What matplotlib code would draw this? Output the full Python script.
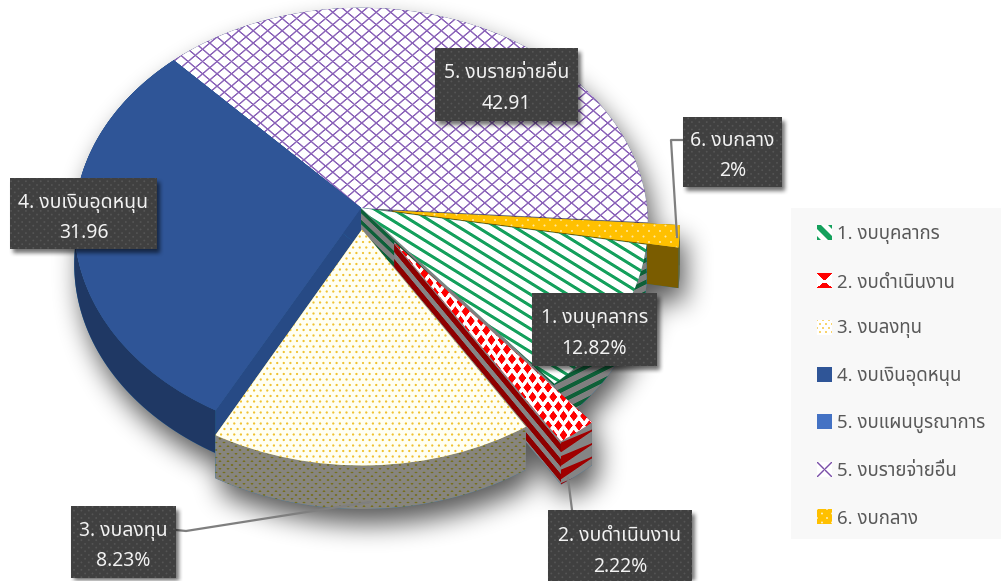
import numpy as np
import matplotlib
matplotlib.use('Agg')
import matplotlib.pyplot as plt
from matplotlib.patches import Polygon, Rectangle
from matplotlib.path import Path
from matplotlib.transforms import Transform

plt.rcParams['font.family'] = ['Noto Sans Thai', 'DejaVu Sans']

# data
categories = ['1. งบบุคลากร', '2. งบดำเนินงาน', '3. งบลงทุน', '4. งบเงินอุดหนุน',
              '5. งบแผนบูรณาการ', '5. งบรายจ่ายอื่น', '6. งบกลาง']
# share of the circle each slice takes in the picture (its labels say otherwise)
slice_share = [11.3, 2.06, 16.83, 30.0, 0, 38.17, 1.64]
slice_pull = [0, 0.195, 0.1, 0, 0, 0, 0.11]
label_names = ['1. งบบุคลากร', '2. งบดำเนินงาน', '3. งบลงทุน', '4. งบเงินอุดหนุน', '5. งบรายจ่ายอื่น', '6. งบกลาง']
label_values = ['12.82%', '2.22%', '8.23%', '31.96', '42.91', '2%']

# layout, in pixels of the picture
W, H = 1001, 581
CX, CY, RX, RY, PERSP, DEPTH = 361, 208, 286, 215, 0.074, 40
START = -9.7
label_boxes = [(532, 293, 125, 73), (548, 510, 144, 75), (71, 506, 105, 72),
               (10, 178, 147, 71), (435, 48, 143, 73), (683, 117, 99, 70)]
leaders = [None, [(568, 478), (572, 510)], [(176, 530), (186, 531), (370, 502)],
           None, None, [(677, 237), (671, 140), (683, 140)]]
legend_y = [233, 281, 328, 375, 422, 470, 517]


def project(u, v):
    s = 1 / (1 + PERSP * v)
    return CX + RX * u * s, CY - RY * v * s


class PieProjection(Transform):
    # tilts the flat pie into picture pixels, far side smaller
    input_dims = 2
    output_dims = 2

    def transform_non_affine(self, values):
        values = np.asarray(values)
        x, y = project(values[:, 0], values[:, 1])
        return np.column_stack([x, y])


yy, xx = np.mgrid[0:H, 0:W] + 0.5


def hexrgb(c):
    return np.array(matplotlib.colors.to_rgb(c))


def paint(bg, fg, mask):
    return hexrgb(bg) * (1 - mask[..., None]) + hexrgb(fg) * mask[..., None]


def stripes(x, y, slope, period, width):
    d = ((y - slope * x) / period + 0.5) % 1 - 0.5
    return np.clip(width / 2 - np.abs(d) * period + 0.5, 0, 1)


def dots(x, y, px, py, r):
    a = (x / px) % 1 - 0.5
    b = (y / py) % 1 - 0.5
    a2 = (x / px + 0.5) % 1 - 0.5
    b2 = (y / py + 0.5) % 1 - 0.5
    d1 = np.hypot(a * px, b * py)
    d2 = np.hypot(a2 * px, b2 * py)
    return np.clip(r - np.minimum(d1, d2) + 0.5, 0, 1)


def diamonds(x, y, px, py, ax_, ay_):
    a = (x / px) % 1 - 0.5
    b = (y / py) % 1 - 0.5
    a2 = (x / px + 0.5) % 1 - 0.5
    b2 = (y / py + 0.5) % 1 - 0.5
    d = np.minimum(np.abs(a) / ax_ + np.abs(b) / ay_, np.abs(a2) / ax_ + np.abs(b2) / ay_)
    return np.clip((1 - d) * 6, 0, 1)


def lattice(x, y, slope, period, width):
    return np.maximum(stripes(x, y, slope, period, width), stripes(x, y, -slope, period, width))


def blur(a, r, passes=3):
    k = np.ones(2 * r + 1) / (2 * r + 1)
    for _ in range(passes):
        a = np.apply_along_axis(lambda m: np.convolve(m, k, mode='same'), 0, a)
        a = np.apply_along_axis(lambda m: np.convolve(m, k, mode='same'), 1, a)
    return a


top_tex = {
    0: paint('#FFFFFF', '#14A05C', stripes(xx, yy, 0.62, 11.5, 3.6)),
    1: paint('#FFFFFF', '#FF0000', diamonds(xx + 3, yy + 2, 10.3, 19, 0.42, 0.3)),
    2: paint('#FFFFF2', '#F0C232', dots(xx, yy, 6.6, 11, 1.1)),
    3: paint('#2F5597', '#2F5597', np.zeros_like(xx)),
    4: paint('#4472C4', '#4472C4', np.zeros_like(xx)),
    5: paint('#FFFFFF', '#8A62B8', lattice(xx, yy, 0.85, 12.3, 1.9)),
    6: paint('#FFC000', '#FFE9A0', dots(xx, yy, 11, 11, 1.0)),
}
# rim of each slice
rim_tex = {
    0: paint('#7F7F7F', '#0D6038', stripes(xx, yy, -0.5, 11, 4.5)),
    1: paint('#858585', '#A00000', stripes(xx, yy, -0.55, 13.5, 2 + 9 * np.clip((590 - xx) / 34, 0, 1))),
    2: paint('#87857E', '#76701E', dots(xx, yy * 1.6, 8, 12, 1.3)),
    3: paint('#1F3864', '#1F3864', np.zeros_like(xx)),
    4: paint('#2F5597', '#2F5597', np.zeros_like(xx)),
    5: paint('#6F6F6F', '#4A3668', lattice(xx, yy, 0.85, 12.3, 1.9)),
    6: paint('#7A5C00', '#7A5C00', np.zeros_like(xx)),
}
# flat cut faces of each slice
side_tex = dict(rim_tex)
side_tex[0] = paint('#7F7F7F', '#0D6038', stripes(xx, yy, 0.95, 11, 4.5))
side_tex[1] = paint('#858585', '#8E0000', stripes(xx, yy, 1.2, 15, 8))
side_tex[3] = paint('#274A85', '#274A85', np.zeros_like(xx))
box_tex = paint('#404040', '#555555', dots(xx, yy, 7.4, 7.4, 0.9))

fig = plt.figure(figsize=(W / 100, H / 100), dpi=100)
ax = fig.add_axes([0, 0, 1, 1])
wedges, _ = ax.pie(slice_share, explode=slice_pull, startangle=START, counterclock=False, normalize=True)
ax.set_aspect('auto')
ax.set_xlim(0, W)
ax.set_ylim(H, 0)
ax.axis('off')
to_px = PieProjection() + ax.transData
for w, c in zip(wedges, ['#14A05C', '#FF0000', '#F0C232', '#2F5597', '#4472C4', '#8F69BC', '#FFC000']):
    w.set_transform(to_px)
    w.set_facecolor(c)
    w.set_edgecolor('none')


def textured(patch, tex, z):
    patch.set_zorder(z)
    patch.set_edgecolor('none')
    if patch.axes is None:
        ax.add_patch(patch)
    im = ax.imshow(tex, extent=(0, W, H, 0), origin='upper', interpolation='nearest', aspect='auto', zorder=z + 0.1)
    im.set_clip_path(patch)


def rim_xy(w, n=80):
    t = np.radians(np.linspace(w.theta1, w.theta2, n))
    return project(w.center[0] + w.r * np.cos(t), w.center[1] + w.r * np.sin(t))


def drop(w, t_deg):
    # height of the wall at a given rim angle, nearer means taller
    v = w.center[1] + w.r * np.sin(np.radians(t_deg))
    return DEPTH / (1 + PERSP * v)


def walls(w):
    x, y = rim_xy(w)
    t = np.linspace(w.theta1, w.theta2, len(x))
    h = drop(w, t)
    ax_, ay_ = project(np.array(w.center[0]), np.array(w.center[1]))
    ah = DEPTH / (1 + PERSP * w.center[1])
    rim = np.column_stack([np.r_[x, x[::-1]], np.r_[y, (y + h)[::-1]]])
    side1 = np.array([(ax_, ay_), (x[0], y[0]), (x[0], y[0] + h[0]), (ax_, ay_ + ah)])
    side2 = np.array([(ax_, ay_), (x[-1], y[-1]), (x[-1], y[-1] + h[-1]), (ax_, ay_ + ah)])
    return rim, side1, side2


# soft shadow under the whole pie
grid = np.column_stack([xx.ravel(), yy.ravel()])
mask = np.zeros(xx.shape)
for i, w in enumerate(wedges):
    if slice_share[i] == 0:
        continue
    x, y = rim_xy(w)
    ax0, ay0 = project(np.array(w.center[0]), np.array(w.center[1]))
    polys = [np.column_stack([np.r_[ax0, x], np.r_[ay0, y]])] + list(walls(w))
    for p in polys:
        mask = np.maximum(mask, Path(p).contains_points(grid).reshape(xx.shape).astype(float))
mask = blur(np.roll(np.roll(mask, 15, axis=0), 6, axis=1), 12)
shadow = np.zeros(xx.shape + (4,))
shadow[..., 3] = mask * 0.65
ax.imshow(shadow, extent=(0, W, H, 0), origin='upper', aspect='auto', zorder=1)

# back to front, slice index and what part of it
draw_order = [(5, 'wall'), (5, 'top'), (3, 'wall'), (3, 'top'), (6, 'wall'), (0, 'wall'),
              (0, 'top'), (1, 'wall'), (2, 'wall'), (2, 'top'), (1, 'top'), (6, 'top')]
z = 2
for i, part in draw_order:
    w = wedges[i]
    if part == 'top':
        textured(w, top_tex[i], z)
    else:
        rim, side1, side2 = walls(w)
        textured(Polygon(side2), side_tex[i], z)
        textured(Polygon(side1), side_tex[i], z + 0.3)
        textured(Polygon(rim), rim_tex[i], z + 0.6)
    z += 1
wedges[4].set_visible(False)

# leader lines
for pts in leaders:
    if pts:
        ax.plot([p[0] for p in pts], [p[1] for p in pts], color='#7F7F7F', lw=1.6, zorder=30)

# label boxes
bmask = np.zeros(xx.shape)
for (x0, y0, bw, bh) in label_boxes:
    bmask[(xx > x0 + 3) & (xx < x0 + bw + 3) & (yy > y0 + 4) & (yy < y0 + bh + 4)] = 1
bshadow = np.zeros(xx.shape + (4,))
bshadow[..., 3] = blur(bmask, 2, 2) * 0.55
ax.imshow(bshadow, extent=(0, W, H, 0), origin='upper', aspect='auto', zorder=31)
for (x0, y0, bw, bh), name, val in zip(label_boxes, label_names, label_values):
    textured(Rectangle((x0, y0), bw, bh, facecolor='#404040'), box_tex, 32)
    mid = x0 + bw / 2
    ax.text(mid, y0 + bh * 0.32 + 2, name, color='#F2F2F2', fontsize=14, ha='center', va='center', zorder=33)
    ax.text(mid, y0 + bh * 0.74 + 2, val, color='#F2F2F2', fontsize=14, ha='center', va='center', zorder=33)

# legend
ax.add_patch(Rectangle((791, 208), 210, 331, facecolor='#F8F8F8', edgecolor='none', zorder=0.5))
sy, sx = np.mgrid[0:15, 0:15] + 0.5
hour = ((np.abs(sx - 7.5) < (7.5 - sy) * 1.1) & (sy < 7)) | ((np.abs(sx - 7.5) < (sy - 8) * 1.1) & (sy > 10))
swatches = [
    paint('#FFFFFF', '#14A05C', stripes(sx, sy, 1, 15, 8)),
    paint('#FFFFFF', '#FF0000', hour.astype(float)),
    paint('#FFFFFF', '#F7C948', dots(sx, sy, 6, 8, 1.0)),
    paint('#2F5597', '#2F5597', np.zeros_like(sx)),
    paint('#4472C4', '#4472C4', np.zeros_like(sx)),
    paint('#FFFFFF', '#7A4FA8', lattice(sx, sy, 1, 15, 2)),
    paint('#FFC000', '#FFF2CC', dots(sx, sy, 10, 9, 0.9)),
]
for name, y, sw in zip(categories, legend_y, swatches):
    ax.imshow(sw, extent=(817, 832, y + 7, y - 8), origin='upper', interpolation='nearest', aspect='auto', zorder=1)
    ax.text(837, y + 1.5, name, color='#595959', fontsize=13.4, ha='left', va='center', zorder=2)

ax.set_xlim(0, W)
ax.set_ylim(H, 0)
fig.savefig('out.png', dpi=100)
